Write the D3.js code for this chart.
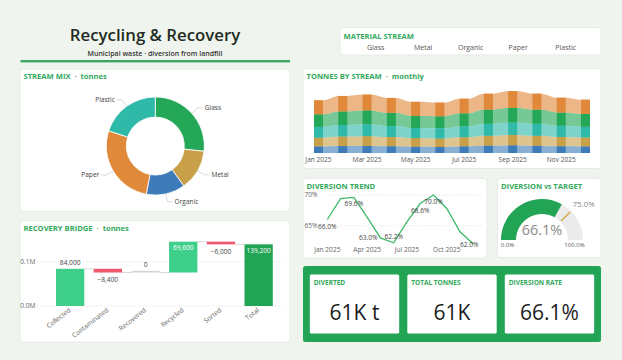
<!DOCTYPE html>
<html><head><meta charset="utf-8">
<script src="https://cdn.jsdelivr.net/npm/d3@7"></script>
<style>
body{margin:0;background:#eff5ee;}
svg{display:block;font-family:'Open Sans',sans-serif;}
</style>
</head><body><svg id="c" width="622" height="360"></svg>
<script>
// ---------- DATA ----------
const streams = ["Glass","Metal","Organic","Paper","Plastic"];
const streamColors = ["#24a757","#c9a04a","#3d7cb8","#e0893b","#2fb9a9"];
const mixTonnes = [16300, 8200, 7800, 16500, 12200];

const months = ["Jan 2025","Feb 2025","Mar 2025","Apr 2025","May 2025","Jun 2025","Jul 2025","Aug 2025","Sep 2025","Oct 2025","Nov 2025","Dec 2025"];
const glassMonthly   = [1150,1250,1280,1210,1110,1100,1190,1300,1360,1300,1210,1170];
const metalMonthly   = [810,880,900,850,800,780,840,920,960,920,860,830];
const organicMonthly = [590,630,640,610,560,550,600,660,690,650,610,590];
const paperMonthly   = [1280,1410,1440,1360,1280,1250,1340,1460,1530,1460,1360,1310];
const plasticMonthly = [980,1040,1070,1000,920,920,990,1080,1120,1090,1010,970];

const trendRate  = [66.0,69.4,69.6,66.4,63.0,62.2,65.6,68.6,70.0,67.8,64.0,62.0];
const trendShown = [true,false,true,false,true,true,false,true,true,false,false,true];
const trendTicks = [65,70];
const trendXTicks = ["Jan 2025","Apr 2025","Jul 2025","Oct 2025"];

const gaugeValue = 66.1, gaugeTarget = 75.0;

const bridgeSteps  = ["Collected","Contaminated","Recovered","Recycled","Sorted","Total"];
const bridgeValues = [84000,-8400,0,69600,-6000,139200];
const bridgeTicks  = [0,100000];

const kpiTitles = ["DIVERTED","TOTAL TONNES","DIVERSION RATE"];
const kpiValues = ["61K t","61K","66.1%"];

// ---------- HELPERS ----------
const svg = d3.select("#c");
const GREEN = "#33a95b";
function panel(x,y,w,h){
  svg.append("rect").attr("x",x).attr("y",y).attr("width",w).attr("height",h)
    .attr("rx",3).attr("fill","#fff").attr("stroke","#e1e9df").attr("stroke-width",0.8);
}
function ptitle(x,y,main,sub){
  const t = svg.append("text").attr("x",x).attr("y",y).attr("font-size",7.6)
    .attr("font-weight",700).attr("fill",GREEN);
  t.append("tspan").text(main);
  if(sub){ t.append("tspan").attr("xml:space","preserve").text("  ·  "+sub); }
  return t;
}
const colorOf = d3.scaleOrdinal().domain(streams).range(streamColors);

// ---------- HEADER ----------
svg.append("text").attr("x",155).attr("y",41).attr("text-anchor","middle")
  .attr("font-size",16.8).attr("font-weight",600).attr("fill","#1e2b22").text("Recycling & Recovery");
svg.append("text").attr("x",155).attr("y",56).attr("text-anchor","middle")
  .attr("font-size",7).attr("font-weight",600).attr("fill","#333").text("Municipal waste · diversion from landfill");
svg.append("rect").attr("x",20.5).attr("y",60).attr("width",269.5).attr("height",2.4).attr("fill","#3aa860");

// ---------- MATERIAL STREAM ----------
panel(340,27.5,261,27.5);
ptitle(343.5,38.5,"MATERIAL STREAM");
const legX = d3.scalePoint().domain(streams).range([375.7,565.7]);
svg.selectAll(".leg").data(streams).join("text").attr("x",d=>legX(d)).attr("y",50)
  .attr("text-anchor","middle").attr("font-size",7).attr("fill","#555").text(d=>d);

// ---------- STREAM MIX (donut) ----------
panel(20,69,270,142.5);
ptitle(23.5,79,"STREAM MIX","tonnes");
{
  const cx=155.3, cy=146, ro=49, ri=29;
  const pie = d3.pie().sort(null).value(d=>d.v);
  const arcs = pie(streams.map((s,i)=>({s, v:mixTonnes[i]})));
  const arc = d3.arc().innerRadius(ri).outerRadius(ro);
  const g = svg.append("g").attr("transform",`translate(${cx},${cy})`);
  g.selectAll("path").data(arcs).join("path").attr("d",arc)
    .attr("fill",d=>colorOf(d.data.s)).attr("stroke","#fff").attr("stroke-width",0.8);
  arcs.forEach(a=>{
    const m=(a.startAngle+a.endAngle)/2, sx=Math.sin(m), sy=-Math.cos(m);
    const p1=[ro*sx, ro*sy], p2=[(ro+8)*sx,(ro+8)*sy];
    const right = sx>=0, p3=[p2[0]+(right?5:-5), p2[1]];
    g.append("polyline").attr("points",[p1,p2,p3].map(p=>p.join(",")).join(" "))
      .attr("fill","none").attr("stroke","#c8c8c8").attr("stroke-width",0.7);
    g.append("text").attr("x",p3[0]+(right?2:-2)).attr("y",p3[1]+2.4)
      .attr("text-anchor",right?"start":"end").attr("font-size",6.6).attr("fill","#444").text(a.data.s);
  });
}

// ---------- RECOVERY BRIDGE ----------
panel(20,220.5,270,121.5);
ptitle(23.5,231,"RECOVERY BRIDGE","tonnes");
{
  const x = d3.scaleBand().domain(bridgeSteps).range([51.3,277.5]).paddingInner(0.25).paddingOuter(0.125);
  const y = d3.scaleLinear().domain([0,150000]).range([306,239.55]);
  bridgeTicks.forEach(t=>{
    svg.append("line").attr("x1",37).attr("x2",284).attr("y1",y(t)).attr("y2",y(t))
      .attr("stroke","#dcdcdc").attr("stroke-width",0.7).attr("stroke-dasharray","1.5,2");
    svg.append("text").attr("x",35.5).attr("y",y(t)+2.3).attr("text-anchor","end")
      .attr("font-size",6.6).attr("fill","#666").text((t/1e6).toFixed(1)+"M");
  });
  let run=0; const bars=[];
  bridgeValues.forEach((v,i)=>{
    const isTotal = i===bridgeValues.length-1;
    let a,b;
    if(isTotal){a=0;b=v;} else {a=run;b=run+v;run=b;}
    bars.push({s:bridgeSteps[i],v,a,b,isTotal});
  });
  bars.forEach((d,i)=>{
    if(i===bars.length-1) return;
    svg.append("line").attr("x1",x(d.s)+x.bandwidth()).attr("x2",x(bars[i+1].s))
      .attr("y1",y(d.b)).attr("y2",y(d.b)).attr("stroke","#cfcfcf").attr("stroke-width",0.8);
  });
  bars.forEach(d=>{
    const top=Math.max(d.a,d.b), bot=Math.min(d.a,d.b);
    let h=y(bot)-y(top), yy=y(top);
    let fill = d.isTotal? "#22a455" : d.v>0? "#3ecf8a" : d.v<0? "#f0566e" : "#d4d4d4";
    if(h<1.6){ h=1.6; yy=y(top)-1.6; }
    svg.append("rect").attr("x",x(d.s)).attr("y",yy).attr("width",x.bandwidth()).attr("height",h).attr("fill",fill);
    const cxm = x(d.s)+x.bandwidth()/2, lbl=d3.format(",")(d.v);
    if(d.v<0){
      svg.append("text").attr("x",cxm).attr("y",y(bot)+9.5).attr("text-anchor","middle")
        .attr("font-size",6.6).attr("fill","#444").text(lbl);
    } else if(top>120000){
      svg.append("text").attr("x",cxm).attr("y",y(top)+8.5).attr("text-anchor","middle")
        .attr("font-size",6.6).attr("fill","#fff").text(lbl);
    } else {
      svg.append("text").attr("x",cxm).attr("y",yy-4).attr("text-anchor","middle")
        .attr("font-size",6.6).attr("fill","#444").text(lbl);
    }
    svg.append("text").attr("transform",`translate(${cxm+1},${311}) rotate(-38)`)
      .attr("text-anchor","end").attr("font-size",6.6).attr("fill","#666").text(d.s);
  });
}

// ---------- TONNES BY STREAM ----------
panel(303,68.5,298,100);
ptitle(306.5,79,"TONNES BY STREAM","monthly");
{
  const series = {Glass:glassMonthly, Metal:metalMonthly, Organic:organicMonthly, Paper:paperMonthly, Plastic:plasticMonthly};
  const table = months.map((m,i)=>{const o={m}; streams.forEach(s=>o[s]=series[s][i]); return o;});
  const stack = d3.stack().keys(streams).order(d3.stackOrderAscending);
  const layers = stack(table);
  const x = d3.scalePoint().domain(months).range([318.5,585.5]);
  const bw = 9;
  const maxT = d3.max(layers, L=>d3.max(L, d=>d[1]));
  const y = d3.scaleLinear().domain([0,maxT]).range([153,91]);
  const area = d3.area().curve(d3.curveMonotoneX).x(d=>d.x).y0(d=>y(d.y0)).y1(d=>y(d.y1));
  layers.forEach(L=>{
    const pts=[];
    L.forEach(d=>{
      const c=x(d.data.m);
      pts.push({x:c-bw/2,y0:d[0],y1:d[1]}); pts.push({x:c+bw/2,y0:d[0],y1:d[1]});
    });
    svg.append("path").attr("d",area(pts)).attr("fill",colorOf(L.key)).attr("fill-opacity",0.62);
  });
  layers.forEach(L=>{
    svg.selectAll(null).data(L).join("rect").attr("x",d=>x(d.data.m)-bw/2).attr("width",bw)
      .attr("y",d=>y(d[1])).attr("height",d=>y(d[0])-y(d[1])).attr("fill",colorOf(L.key));
  });
  svg.selectAll(null).data(months.filter((m,i)=>i%2===0)).join("text")
    .attr("x",d=>x(d)).attr("y",161.5).attr("text-anchor","middle").attr("font-size",6.6)
    .attr("fill","#555").text(d=>d);
}

// ---------- DIVERSION TREND ----------
panel(303,178.5,184,80);
ptitle(306.5,189,"DIVERSION TREND");
{
  const x = d3.scalePoint().domain(months).range([327.3,473.3]);
  const y = d3.scaleLinear().domain([62,70]).range([244,195]);
  trendTicks.forEach(t=>{
    svg.append("line").attr("x1",330).attr("x2",484).attr("y1",y(t)).attr("y2",y(t))
      .attr("stroke","#dcdcdc").attr("stroke-width",0.7).attr("stroke-dasharray","1.5,2");
    svg.append("text").attr("x",317.5).attr("y",y(t)+2.3).attr("text-anchor","end")
      .attr("font-size",6.6).attr("fill","#666").text(t+"%");
  });
  const line = d3.line().x((d,i)=>x(months[i])).y(d=>y(d));
  svg.append("path").attr("d",line(trendRate)).attr("fill","none").attr("stroke","#3cb868").attr("stroke-width",1.3);
  trendRate.forEach((v,i)=>{
    if(!trendShown[i]) return;
    let lx=x(months[i]), ly=y(v)+9, anchor="middle";
    const last = i===trendRate.length-1;
    if(v<63.5){
      if(last){ lx-=4; ly=y(v)+2.5; }
      else if(trendRate[i+1]<v){ lx-=3; ly=y(v)+2.5; anchor="end"; }
      else { ly=y(v)-4; }
    }
    svg.append("text").attr("x",lx).attr("y",ly).attr("text-anchor",anchor)
      .attr("font-size",6.6).attr("fill","#444").text(v.toFixed(1)+"%");
  });
  svg.selectAll(null).data(trendXTicks).join("text").attr("x",d=>x(d)).attr("y",251.5)
    .attr("text-anchor","middle").attr("font-size",6.6).attr("fill","#666").text(d=>d);
}

// ---------- GAUGE ----------
panel(497.5,178.5,103.5,79);
{
  const t = svg.append("text").attr("x",501).attr("y",189).attr("font-size",7.6).attr("font-weight",700).attr("fill",GREEN);
  t.append("tspan").text("DIVERSION ");
  t.append("tspan").attr("font-size",6.6).text("vs");
  t.append("tspan").text(" TARGET");
  const cx=542, cy=240, ro=41, ri=26;
  const a = d3.scaleLinear().domain([0,100]).range([-Math.PI/2,Math.PI/2]);
  const arc = d3.arc().innerRadius(ri).outerRadius(ro);
  const g = svg.append("g").attr("transform",`translate(${cx},${cy})`);
  g.append("path").attr("d",arc({startAngle:a(0),endAngle:a(100)})).attr("fill","#ebebeb");
  g.append("path").attr("d",arc({startAngle:a(0),endAngle:a(gaugeValue)})).attr("fill","#22a455");
  const ta=a(gaugeTarget);
  g.append("line").attr("x1",(ri+1)*Math.sin(ta)).attr("y1",-(ri+1)*Math.cos(ta))
    .attr("x2",(ro-1)*Math.sin(ta)).attr("y2",-(ro-1)*Math.cos(ta)).attr("stroke","#d6a84e").attr("stroke-width",1.4);
  g.append("text").attr("x",(ro+2)*Math.sin(ta)).attr("y",-(ro+2)*Math.cos(ta)-3)
    .attr("font-size",8).attr("fill","#888").text(gaugeTarget.toFixed(1)+"%");
  g.append("text").attr("x",0).attr("y",-5).attr("text-anchor","middle").attr("font-size",14.5)
    .attr("fill","#8a8a8a").text(gaugeValue.toFixed(1)+"%");
  g.append("text").attr("x",-(ro+ri)/2-1).attr("y",7).attr("text-anchor","middle").attr("font-size",6).attr("fill","#555").text("0.0%");
  g.append("text").attr("x",(ro+ri)/2-1).attr("y",7).attr("text-anchor","middle").attr("font-size",6).attr("fill","#555").text("100.0%");
}

// ---------- KPI ----------
svg.append("rect").attr("x",303).attr("y",266).attr("width",298).attr("height",76).attr("rx",2.5).attr("fill","#22a455");
{
  const kx = d3.scaleBand().domain(kpiTitles).range([303,601]).paddingInner(0.083).paddingOuter(0.07);
  kpiTitles.forEach((k,i)=>{
    const x0 = kx(k), w = kx.bandwidth();
    svg.append("rect").attr("x",x0).attr("y",274.5).attr("width",w).attr("height",59).attr("rx",1.5).attr("fill","#fff");
    svg.append("text").attr("x",x0+4).attr("y",285).attr("font-size",6.5).attr("font-weight",700).attr("fill",GREEN).text(k);
    svg.append("text").attr("x",x0+w/2).attr("y",319.5).attr("text-anchor","middle").attr("font-size",21)
      .attr("fill","#1d1d1d").text(kpiValues[i]);
  });
}
</script></body></html>
